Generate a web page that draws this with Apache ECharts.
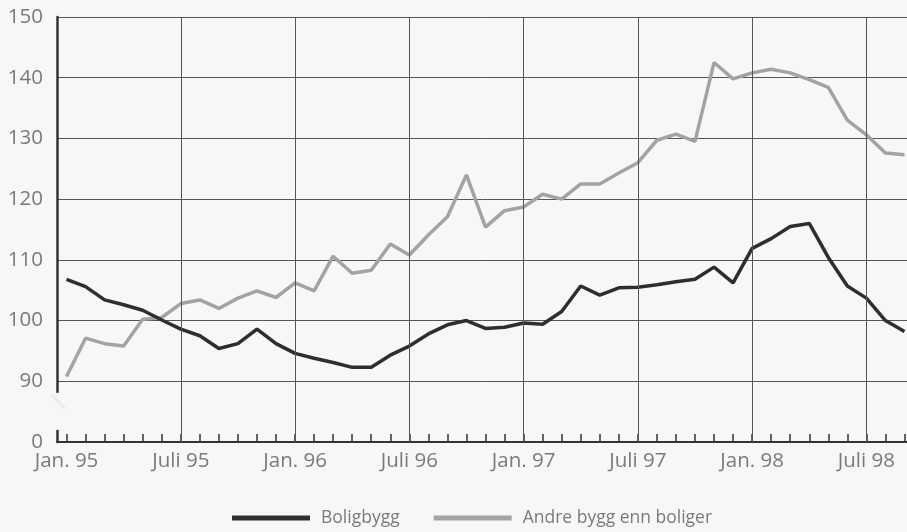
<!DOCTYPE html>
<html>
<head>
<meta charset="utf-8">
<script src="https://cdn.jsdelivr.net/npm/echarts@6/dist/echarts.min.js"></script>
<style>
html,body{margin:0;padding:0;background:#f7f7f7;}
#c{width:907px;height:532px;}
</style>
</head>
<body>
<div id="c"></div>
<script>
// Months Jan. 95 .. Sep. 98
const months = [
 'Jan. 95','Feb. 95','Mars 95','April 95','Mai 95','Juni 95','Juli 95','Aug. 95','Sep. 95','Okt. 95','Nov. 95','Des. 95',
 'Jan. 96','Feb. 96','Mars 96','April 96','Mai 96','Juni 96','Juli 96','Aug. 96','Sep. 96','Okt. 96','Nov. 96','Des. 96',
 'Jan. 97','Feb. 97','Mars 97','April 97','Mai 97','Juni 97','Juli 97','Aug. 97','Sep. 97','Okt. 97','Nov. 97','Des. 97',
 'Jan. 98','Feb. 98','Mars 98','April 98','Mai 98','Juni 98','Juli 98','Aug. 98','Sep. 98'
];
const boligbygg = [
 106.8,105.6,103.4,102.6,101.7,100.1,98.6,97.5,95.4,96.2,98.6,96.2,
 94.6,93.8,93.1,92.3,92.3,94.3,95.8,97.8,99.3,100.0,98.7,98.9,
 99.6,99.4,101.5,105.7,104.2,105.4,105.5,105.9,106.4,106.8,108.8,106.2,
 111.9,113.5,115.5,116.0,110.4,105.7,103.7,100.0,98.2
];
const andreBygg = [
 90.8,97.1,96.2,95.8,100.2,100.5,102.8,103.4,102.0,103.7,104.9,103.8,
 106.2,104.9,110.6,107.8,108.3,112.6,110.8,114.1,117.1,124.0,115.4,118.1,
 118.7,120.8,120.0,122.5,122.5,124.3,126.0,129.7,130.7,129.5,142.5,139.8,
 140.8,141.4,140.8,139.7,138.4,133.0,130.6,127.6,127.3
];
// Vertical grid lines (every half year)
const gridMonths = ['Juli 95','Jan. 96','Juli 96','Jan. 97','Juli 97','Jan. 98','Juli 98'];
// Y axis: broken axis, bottom tick stands for 0
const yMin = 80, yMax = 150, yStep = 10;
const seriesNames = ['Boligbygg','Andre bygg enn boliger'];

const bg = '#f7f7f7';
const textCol = '#7a7a7a';
const font = "'Open Sans', 'Noto Sans', sans-serif";

const chart = echarts.init(document.getElementById('c'), null, {renderer:'canvas'});
const option = {
  backgroundColor: bg,
  animation: false,
  grid: {left: 57, top: 17, width: 857, height: 425, containLabel: false, outerBoundsMode: 'none'},
  legend: {
    data: seriesNames,
    left: 232, top: 509, padding: 0,
    icon: 'rect', itemWidth: 78, itemHeight: 5, itemGap: 34,
    textStyle: {color: textCol, fontSize: 17.5, fontFamily: font, padding: [0,0,0,6]}
  },
  xAxis: {
    type: 'category',
    data: months,
    boundaryGap: true,
    axisLine: {show: true, lineStyle: {color: '#333', width: 2}},
    axisTick: {show: true, inside: true, alignWithLabel: true, interval: 0, length: 8, lineStyle: {color: '#333', width: 1.5}},
    axisLabel: {interval: 5, color: textCol, fontSize: 20.5, fontFamily: font, margin: 9},
    splitLine: {show: false}
  },
  yAxis: {
    type: 'value',
    min: yMin, max: yMax, interval: yStep,
    axisLine: {show: true, lineStyle: {color: '#333', width: 2.5}},
    axisTick: {show: false},
    axisLabel: {color: textCol, fontSize: 20.5, fontFamily: font, margin: 14,
      formatter: v => v === yMin ? '0' : String(v)},
    splitLine: {show: true, lineStyle: {color: '#555', width: 1}}
  },
  series: [
    {
      name: '_grid', type: 'line', data: months.map(() => null), silent: true,
      markLine: {
        silent: true, symbol: 'none', label: {show: false},
        lineStyle: {color: '#555', width: 1, type: 'solid'},
        data: gridMonths.map(m => ({xAxis: m}))
      }
    },
    {
      name: seriesNames[1], type: 'line', data: andreBygg, symbol: 'none',
      lineStyle: {color: '#a3a3a3', width: 3.5}, itemStyle: {color: '#a3a3a3'}
    },
    {
      name: seriesNames[0], type: 'line', data: boligbygg, symbol: 'none',
      lineStyle: {color: '#2e2e2e', width: 3.5}, itemStyle: {color: '#2e2e2e'}
    }
  ]
};
chart.setOption(option);

// axis break decoration on the y axis line
const catW = chart.convertToPixel({xAxisIndex: 0}, months[1]) - chart.convertToPixel({xAxisIndex: 0}, months[0]);
const x0 = chart.convertToPixel({xAxisIndex: 0}, months[0]) - catW / 2;
const yTop = chart.convertToPixel({yAxisIndex: 0}, 88.1);
const yBot = chart.convertToPixel({yAxisIndex: 0}, 82.0);
chart.setOption({
  graphic: [
    {type: 'rect', z: 100, shape: {x: x0 - 4, y: yTop, width: 8, height: yBot - yTop}, style: {fill: bg}},
    {type: 'line', z: 100, shape: {x1: x0 - 5, y1: yTop + 2, x2: x0 + 8, y2: yTop + 16}, style: {stroke: '#ebebeb', lineWidth: 3}}
  ]
});
</script>
</body>
</html>
